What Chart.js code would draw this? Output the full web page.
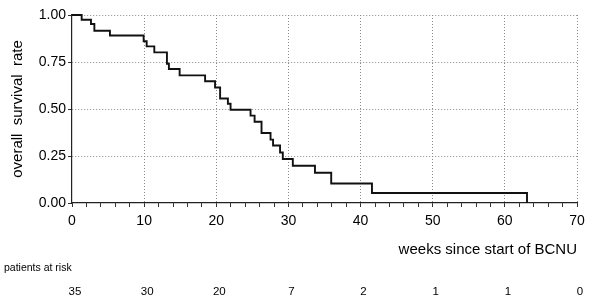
<!DOCTYPE html>
<html>
<head>
<meta charset="utf-8">
<script src="https://cdn.jsdelivr.net/npm/chart.js@4/dist/chart.umd.min.js"></script>
<style>
  html, body { margin: 0; padding: 0; background: #fff; }
  #wrap { width: 600px; height: 307px; }
</style>
</head>
<body>
<div id="wrap"><canvas id="km"></canvas></div>
<script>
// Kaplan-Meier steps
const weeks = [0, 1.34, 2.63, 3.10, 5.26, 9.93, 10.35, 11.41, 13.16, 13.43, 14.92, 18.45, 19.83, 20.53,
  21.61, 21.98, 24.75, 25.31, 26.27, 27.52, 27.87, 28.84, 29.22, 30.61, 33.68, 35.93, 41.58, 63.07];
const survival = [1.0, 0.975, 0.952, 0.916, 0.891, 0.860, 0.833, 0.801, 0.741, 0.713, 0.679, 0.648, 0.614, 0.556,
  0.528, 0.496, 0.465, 0.432, 0.372, 0.337, 0.306, 0.269, 0.234, 0.198, 0.161, 0.104, 0.053, 0];

const riskWeeks = [0, 10, 20, 30, 40, 50, 60, 70];
const atRisk = [35, 30, 20, 7, 2, 1, 1, 0];

const FONT = '"Liberation Sans", Arial, Helvetica, sans-serif';

const riskTable = {
  id: 'riskTable',
  afterDraw(chart) {
    const ctx = chart.ctx;
    const xs = chart.scales.x;
    ctx.save();
    ctx.fillStyle = '#000';
    ctx.textBaseline = 'middle';
    ctx.font = '10.5px ' + FONT;
    ctx.textAlign = 'left';
    ctx.fillText('patients at risk', 4, 268);
    ctx.font = '11.5px ' + FONT;
    ctx.textAlign = 'center';
    riskWeeks.forEach((w, i) => {
      ctx.fillText(String(atRisk[i]), xs.getPixelForValue(w) + 3, 292);
    });
    ctx.restore();
  }
};

new Chart(document.getElementById('km'), {
  type: 'line',
  data: {
    datasets: [{
      data: weeks.map((w, i) => ({ x: w, y: survival[i] })),
      stepped: true,
      borderColor: '#111',
      borderWidth: 1.9,
      pointRadius: 0,
      fill: false,
      clip: 4
    }]
  },
  options: {
    responsive: true,
    maintainAspectRatio: false,
    animation: false,
    layout: { padding: { left: 0, right: 23, top: 15, bottom: 0 } },
    plugins: { legend: { display: false }, tooltip: { enabled: false } },
    scales: {
      x: {
        type: 'linear',
        min: 0,
        max: 70,
        afterFit: s => { s.height = 104; },
        ticks: {
          stepSize: 2,
          autoSkip: false,
          maxRotation: 0,
          padding: 6,
          color: '#000',
          font: { family: FONT, size: 14 },
          callback: v => (v % 10 === 0 ? String(v) : '')
        },
        grid: {
          color: c => (c.tick && c.tick.value % 10 === 0 && c.tick.value !== 0 ? '#8a8a8a' : 'transparent'),
          lineWidth: 1,
          tickLength: 4,
          tickColor: '#333',
          tickWidth: 1
        },
        border: { display: true, color: '#222', width: 1.2, dash: [1, 2] },
        title: {
          display: true,
          text: 'weeks since start of BCNU',
          align: 'end',
          color: '#000',
          font: { family: FONT, size: 15 },
          padding: { top: 0, bottom: 48 }
        }
      },
      y: {
        min: 0,
        max: 1,
        afterFit: s => { s.width = 72; },
        ticks: {
          stepSize: 0.25,
          padding: 2,
          color: '#000',
          font: { family: FONT, size: 14 },
          callback: v => Number(v).toFixed(2)
        },
        grid: {
          color: c => (c.tick && c.tick.value !== 0 ? '#8a8a8a' : 'transparent'),
          lineWidth: 1,
          tickLength: 4,
          tickColor: '#333',
          tickWidth: 1
        },
        border: { display: true, color: '#222', width: 1.2, dash: [1, 2] },
        title: {
          display: true,
          text: 'overall  survival  rate',
          color: '#000',
          font: { family: FONT, size: 15 },
          padding: { top: 9, bottom: 0 }
        }
      }
    }
  },
  plugins: [riskTable]
});
</script>
</body>
</html>
